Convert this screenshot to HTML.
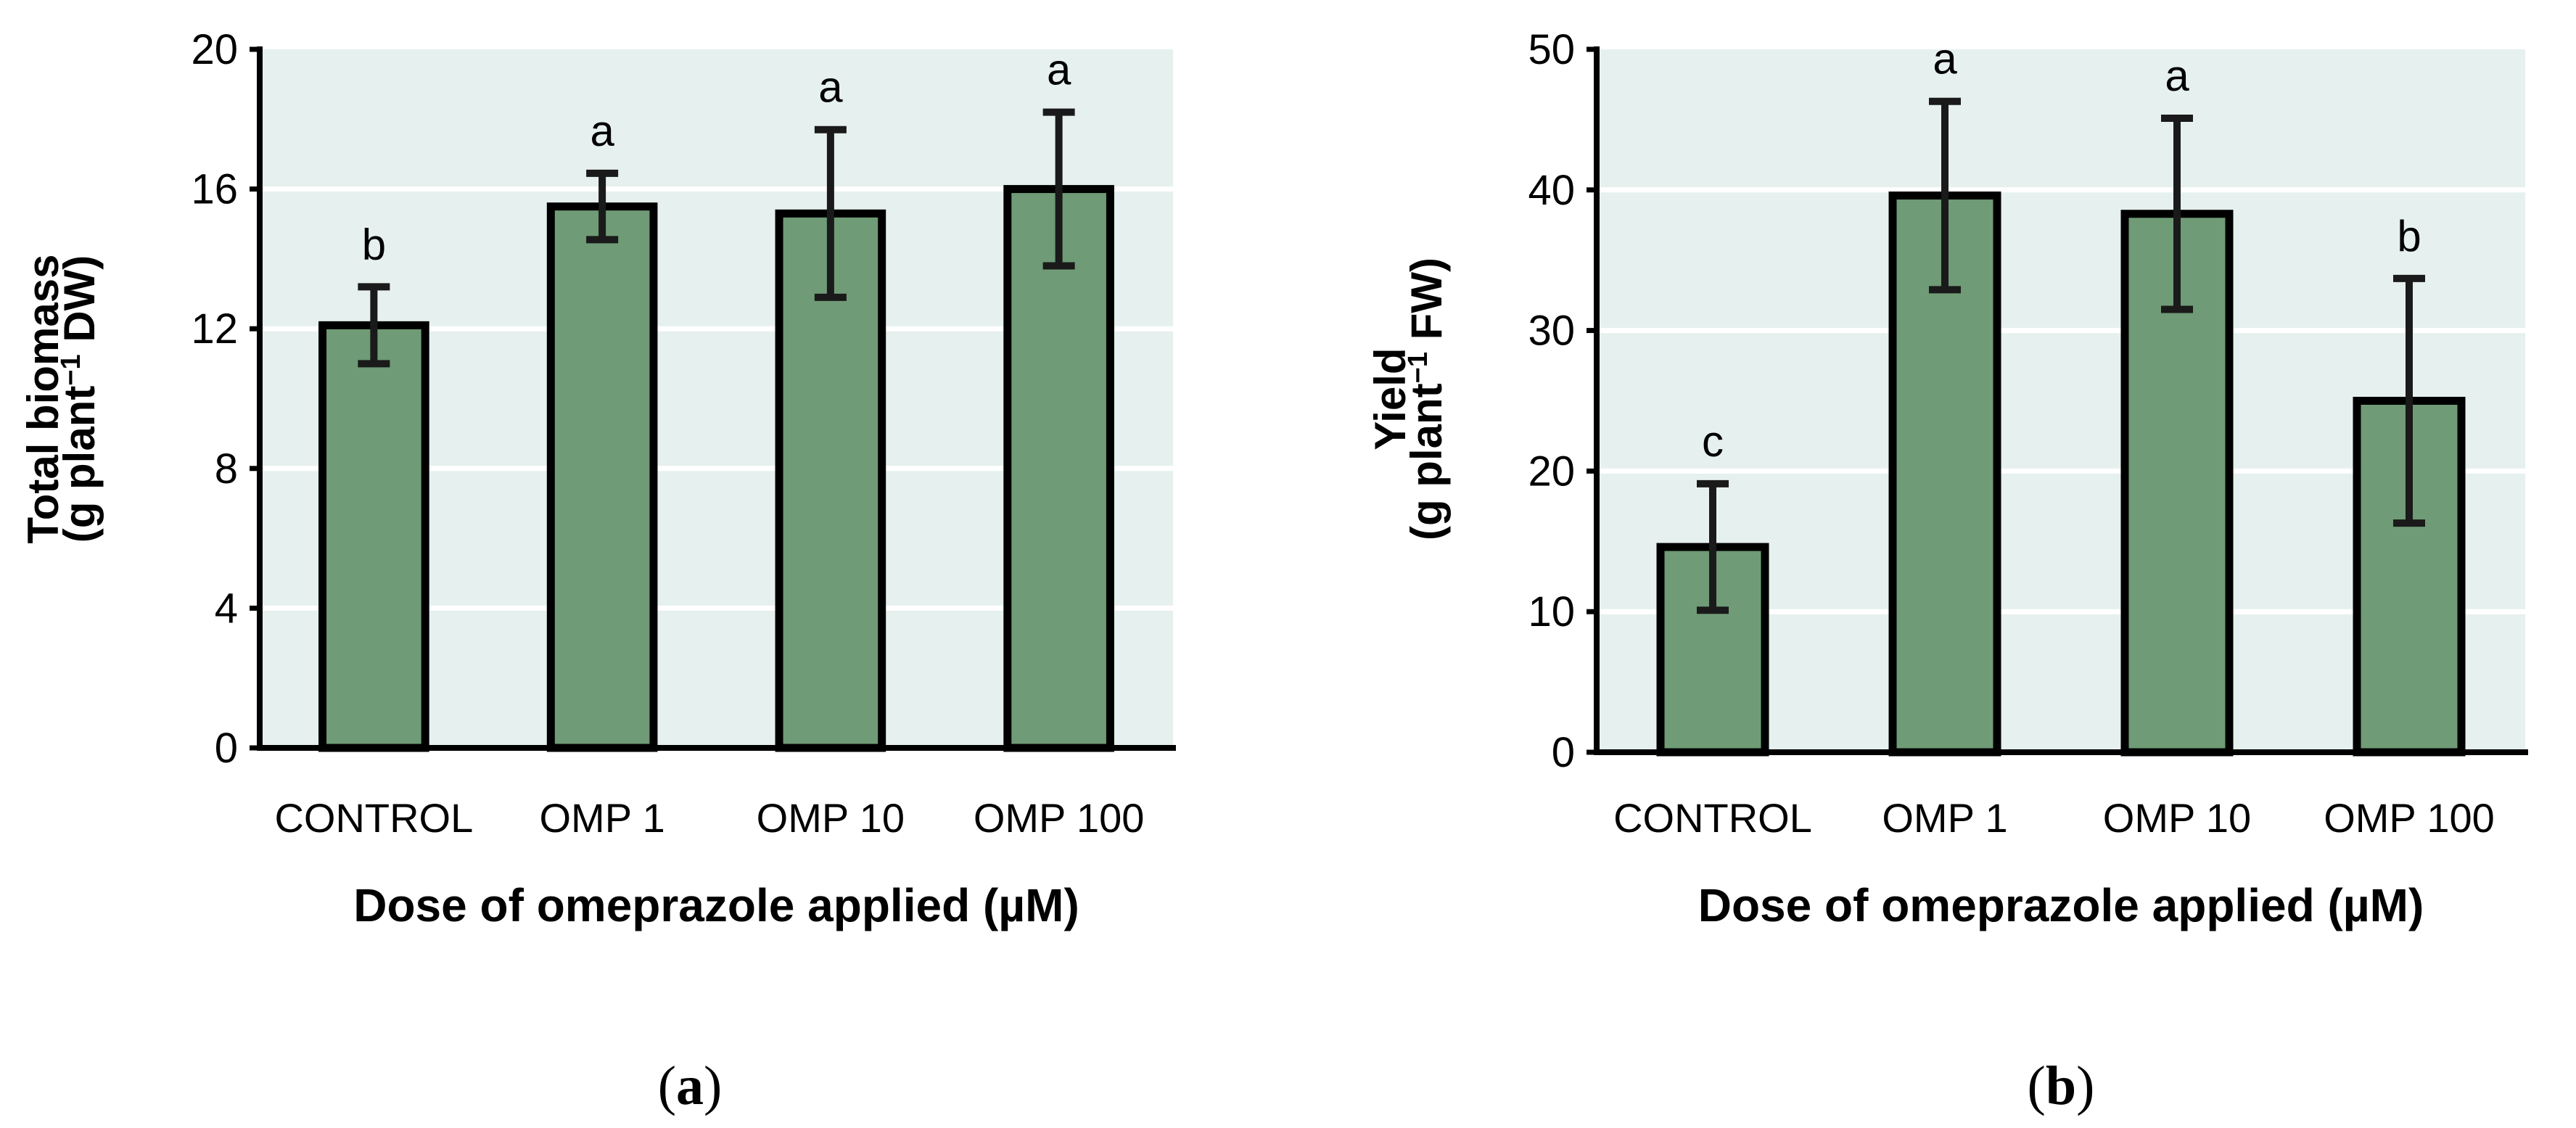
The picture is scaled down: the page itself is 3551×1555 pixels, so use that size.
<!DOCTYPE html>
<html><head><meta charset="utf-8"><style>
html,body{margin:0;padding:0;background:#fff;}
svg{display:block;font-family:"Liberation Sans",sans-serif;}
</style></head><body>
<svg id="fig" width="3551" height="1555" viewBox="0 0 3551 1555" xmlns="http://www.w3.org/2000/svg"></svg>
<script>
const categories = ["CONTROL","OMP 1","OMP 10","OMP 100"];
const biomassValues = [12.1, 15.5, 15.3, 16.0];
const biomassErr = [1.1, 0.95, 2.4, 2.2];
const biomassLetters = ["b","a","a","a"];
const biomassTicks = [0,4,8,12,16,20];
const yieldValues = [14.6, 39.6, 38.3, 25.0];
const yieldErr = [4.5, 6.7, 6.8, 8.7];
const yieldLetters = ["c","a","a","b"];
const yieldTicks = [0,10,20,30,40,50];

const NS = "http://www.w3.org/2000/svg";
const svg = document.getElementById('fig');
function mk(tag, attrs, parent){
  const e = document.createElementNS(NS, tag);
  for (const k in attrs) e.setAttribute(k, attrs[k]);
  (parent||svg).appendChild(e);
  return e;
}
function drawChart(cfg){
  const g = mk('g', {});
  
  
  const {x0, x1, yTop, yBot, max} = cfg;
  const yS = v => yBot - (v / max) * (yBot - yTop);
  const cw = (x1 - x0) / categories.length;
  const xC = i => x0 + cw * (i + 0.5);
  const bg = mk('rect', {x:x0, y:yTop, width:x1-x0, height:yBot-yTop, fill:'#e6f0ef'}, g);
  
  
  cfg.ticks.forEach(t => {
    if (t > 0 && t < max) {
      const gl = mk('line', {x1:x0, x2:x1, y1:yS(t), y2:yS(t), stroke:'#fff', 'stroke-width':7}, g);
      
      
    }
    const tk = mk('line', {x1:x0-14, x2:x0, y1:yS(t), y2:yS(t), stroke:'#000', 'stroke-width':7}, g);
    
    
    const tl = mk('text', {x:x0-30, y:yS(t)+20, 'text-anchor':'end', 'font-size':58, fill:'#000'}, g);
    tl.textContent = t;
    
    
  });
  const bw = cw * 0.45;
  cfg.values.forEach((v, i) => {
    const b = mk('rect', {x:xC(i)-bw/2, y:yS(v), width:bw, height:yBot-yS(v), fill:'#6f9b76', stroke:'#000', 'stroke-width':11}, g);
    
    
    const hi = yS(v + cfg.err[i]), lo = yS(v - cfg.err[i]);
    const eb = mk('path', {d:`M${xC(i)},${hi}V${lo}M${xC(i)-22},${hi}H${xC(i)+22}M${xC(i)-22},${lo}H${xC(i)+22}`, stroke:'#1a1a1a', 'stroke-width':10, fill:'none'}, g);
    
    
    const lt = mk('text', {x:xC(i), y:hi-38, 'text-anchor':'middle', 'font-size':60, fill:'#000'}, g);
    lt.textContent = cfg.letters[i];
    
    
    const cl = mk('text', {x:xC(i), y:1147, 'text-anchor':'middle', 'font-size':56, fill:'#000'}, g);
    cl.textContent = categories[i];
    
    
  });
  const ya = mk('line', {x1:x0, x2:x0, y1:yTop-4, y2:yBot+4, stroke:'#000', 'stroke-width':8}, g);
  
  
  const xa = mk('line', {x1:x0-4, x2:x1+4, y1:yBot, y2:yBot, stroke:'#000', 'stroke-width':8}, g);
  
  
  const xt = mk('text', {x:(x0+x1)/2, y:1270, 'text-anchor':'middle', 'font-size':64, 'font-weight':'bold', fill:'#000'}, g);
  xt.textContent = 'Dose of omeprazole applied (\u00B5M)';
  
  
  const yt = mk('text', {transform:`translate(${cfg.titleX},${cfg.titleY}) rotate(-90)`, 'text-anchor':'middle', 'font-size':60, 'font-weight':'bold', fill:'#000'}, g);
  
  
  const t1 = mk('tspan', {x:0, y:0}, yt); t1.textContent = cfg.title1;
  const t2 = mk('tspan', {x:0, y:50}, yt); t2.innerHTML = '(g plant<tspan dy="-20" font-size="38">\u22121</tspan><tspan dy="20"> ' + cfg.unit + ')</tspan>';
  const pl = mk('text', {x:cfg.panelX, y:1522, 'text-anchor':'middle', 'font-size':76, 'font-family':'"Liberation Serif",serif', fill:'#000'}, g);
  pl.innerHTML = '(<tspan font-weight="bold">' + cfg.panel + '</tspan>)';
  
  
}
drawChart({name:'biomass-chart', x0:358, x1:1617, yTop:68, yBot:1031, max:20, ticks:biomassTicks, values:biomassValues, err:biomassErr, letters:biomassLetters, title1:'Total biomass', unit:'DW', titleX:80, titleY:550, panel:'a', panelX:951});
drawChart({name:'yield-chart', x0:2201, x1:3481, yTop:68, yBot:1037, max:50, ticks:yieldTicks, values:yieldValues, err:yieldErr, letters:yieldLetters, title1:'Yield', unit:'FW', titleX:1937, titleY:550, panel:'b', panelX:2841});
</script>
</body></html>
